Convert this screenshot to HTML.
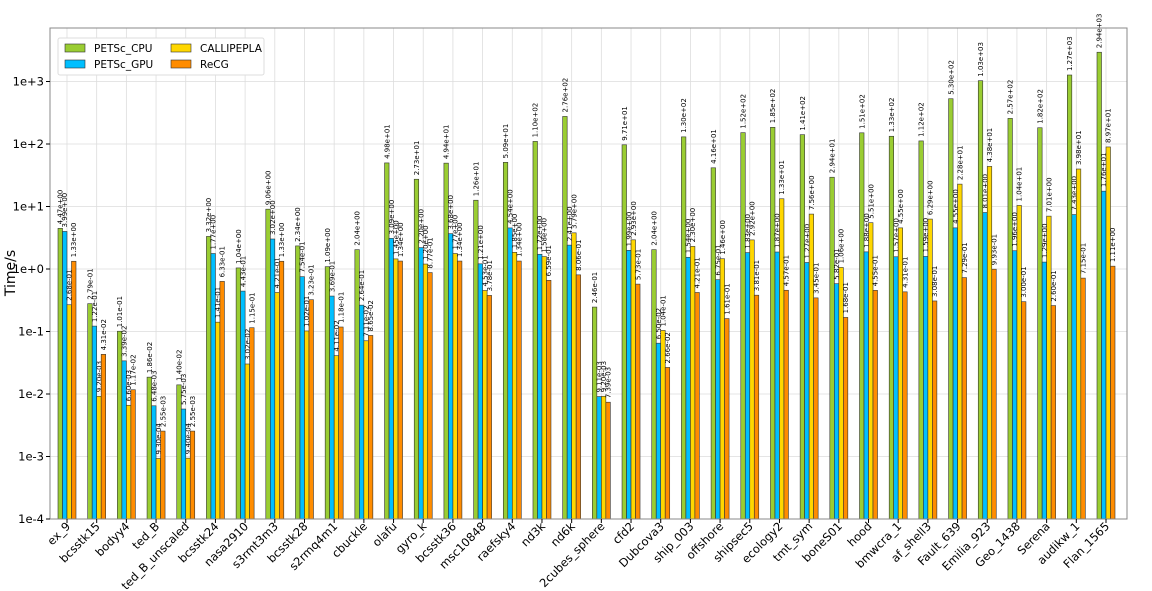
<!DOCTYPE html>
<html><head><meta charset="utf-8"><style>
html,body{margin:0;padding:0;background:#fff;}
svg{display:block;font-family:"DejaVu Sans","Liberation Sans",sans-serif;}
</style></head><body>
<svg id="c" width="1152" height="591" viewBox="0 0 1152 591" xmlns="http://www.w3.org/2000/svg">
<rect x="0" y="0" width="1152" height="591" fill="#fff"/>
<g id="grid"></g>
<g id="bars"></g>
<rect x="50" y="28" width="1077" height="491" fill="none" stroke="#888" stroke-width="1"/>
<g id="axes" font-size="11.5" fill="#000"></g>
<text x="15" y="273" font-size="14" text-anchor="middle" transform="rotate(-90 15 273)">Time/s</text>
<g>
<rect x="58" y="38" width="206" height="37" fill="#fff" stroke="#ddd" rx="2"/>
<rect x="65" y="44" width="20" height="8" fill="#9acd32" stroke="#333" stroke-width="0.6"/>
<text x="94" y="52" font-size="10.5">PETSc_CPU</text>
<rect x="65" y="60" width="20" height="8" fill="#00bfff" stroke="#333" stroke-width="0.6"/>
<text x="94" y="68" font-size="10.5">PETSc_GPU</text>
<rect x="171" y="44" width="20" height="8" fill="#ffd700" stroke="#333" stroke-width="0.6"/>
<text x="200" y="52" font-size="10.5">CALLIPEPLA</text>
<rect x="171" y="60" width="20" height="8" fill="#ff8c00" stroke="#333" stroke-width="0.6"/>
<text x="200" y="68" font-size="10.5">ReCG</text>
</g>
</svg>
<script>
var D=[
["ex_9",4.47,3.99,0.268,1.33],
["bcsstk15",0.279,0.122,0.0092,0.0431],
["bodyy4",0.101,0.0339,0.0066,0.0117],
["ted_B",0.0186,0.00648,0.00093,0.00255],
["ted_B_unscaled",0.014,0.00575,0.00094,0.00255],
["bcsstk24",3.32,1.77,0.141,0.633],
["nasa2910",1.04,0.443,0.0302,0.115],
["s3rmt3m3",9.06,3.02,0.421,1.33],
["bcsstk28",2.34,0.754,0.102,0.323],
["s2rmq4m1",1.09,0.369,0.0411,0.118],
["cbuckle",2.04,0.264,0.0711,0.0865],
["olafu",49.8,3.09,1.45,1.34],
["gyro_k",27.3,2.20,1.20,0.877],
["bcsstk36",49.4,3.68,1.77,1.34],
["msc10848",12.6,1.21,0.453,0.378],
["raefsky4",50.9,4.54,1.85,1.34],
["nd3k",110,1.72,1.58,0.659],
["nd6k",276,2.41,3.79,0.806],
["2cubes_sphere",0.246,0.00911,0.0092,0.00739],
["cfd2",97.1,1.99,2.93,0.573],
["Dubcova3",2.04,0.065,0.104,0.0266],
["ship_003",130,1.54,2.30,0.421],
["offshore",41.6,0.675,1.46,0.161],
["shipsec5",152,1.83,2.92,0.381],
["ecology2",185,1.87,13.3,0.457],
["tmt_sym",141,1.27,7.56,0.345],
["boneS01",29.4,0.582,1.06,0.168],
["hood",151,1.88,5.51,0.455],
["bmwcra_1",133,1.57,4.55,0.431],
["af_shell3",112,1.59,6.29,0.308],
["Fault_639",530,4.55,22.8,0.729],
["Emilia_923",1030,8.01,43.8,0.993],
["Geo_1438",257,1.96,10.4,0.300],
["Serena",182,1.29,7.01,0.260],
["audikw_1",1270,7.43,39.8,0.715],
["Flan_1565",2940,17.6,89.7,1.11]];
var C=["#9acd32","#00bfff","#ffd700","#ff8c00"];
var NS="http://www.w3.org/2000/svg";
function el(p,t,a,txt){var e=document.createElementNS(NS,t);for(var k in a)e.setAttribute(k,a[k]);if(txt!==undefined)e.textContent=txt;p.appendChild(e);return e;}
function Y(v){return 269-62.5*Math.log10(v);}
function fmt(v){var s=v.toExponential(2);var m=s.split("e");var ex=parseInt(m[1]);var sg=ex<0?"-":"+";var a=Math.abs(ex);return m[0]+"e"+sg+(a<10?"0":"")+a;}
var g=document.getElementById("grid"),b=document.getElementById("bars"),ax=document.getElementById("axes");
var step=(1106-67)/(D.length-1);
for(var e=-4;e<=3;e++){var y=Y(Math.pow(10,e));
 el(g,"line",{x1:50,x2:1127,y1:y,y2:y,stroke:"#ddd","stroke-width":0.8});
 el(ax,"line",{x1:46,x2:50,y1:y,y2:y,stroke:"#000"});
 el(ax,"text",{x:44,y:y+4,"text-anchor":"end"},"1e"+(e<0?"":"+")+e);}
for(var i=0;i<D.length;i++){var cx=67+i*step;
 el(g,"line",{x1:cx,x2:cx,y1:28,y2:519,stroke:"#ddd","stroke-width":0.8});
 el(ax,"line",{x1:cx,x2:cx,y1:519,y2:523,stroke:"#000"});
 el(ax,"text",{x:cx+4,y:527,"text-anchor":"end",transform:"rotate(-45 "+(cx+4)+" 527)"},D[i][0]);
 for(var j=0;j<4;j++){var v=D[i][j+1];var x=cx-9+j*4.5;var yt=Y(v);
  el(b,"rect",{x:x,y:yt,width:4.5,height:519-yt,fill:C[j],stroke:"#333","stroke-width":0.6});
  var tx=x+2.25+2.5,ty=yt-4;
  el(b,"text",{x:tx,y:ty,"font-size":7,transform:"rotate(-90 "+tx+" "+ty+")"},fmt(v));}}
</script>
</body></html>
